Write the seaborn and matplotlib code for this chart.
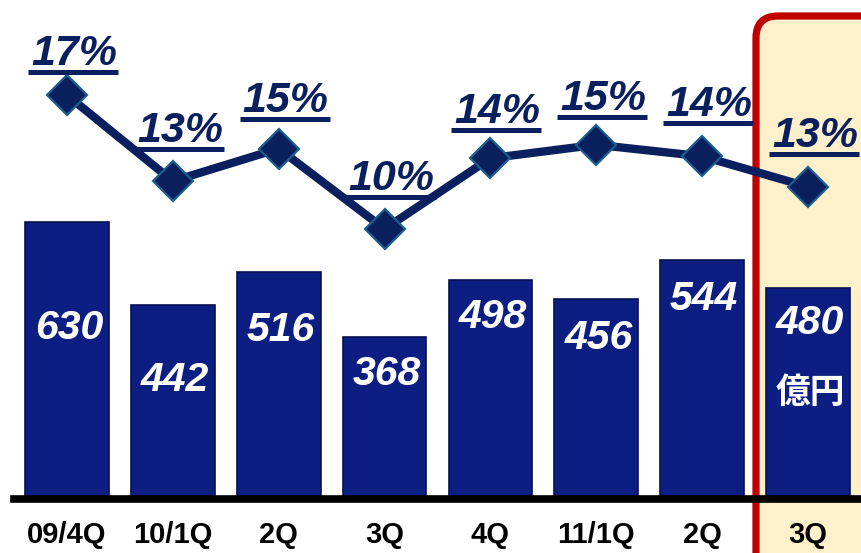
import matplotlib
matplotlib.use("Agg")
import matplotlib.pyplot as plt
from matplotlib.patches import FancyBboxPatch
from matplotlib.lines import Line2D
import seaborn as sns
import pandas as pd

# ---- data ----
quarters = ["09/4Q", "10/1Q", "2Q", "3Q", "4Q", "11/1Q", "2Q", "3Q"]
amounts = [630, 442, 516, 368, 498, 456, 544, 480]          # 億円
ratio_values = [17.0, 12.5, 14.2, 10.0, 13.7, 14.4, 13.8, 12.2]  # plotted position (%)
ratio_labels = ["17%", "13%", "15%", "10%", "14%", "15%", "14%", "13%"]
unit_label = "億円"

# ---- style / layout ----
NAVY = "#0A1F5E"
BAR = "#0C1E82"
# vertical position of the white value inside each bar (px below bar top)
bar_label_drop = [106, 75, 58, 37, 37, 39, 39, 35]
# gap between each marker and the underline of its % label (px)
ratio_label_lift = [24, 33, 31, 33, 29, 29, 34, 34]

sns.set_theme(style="white")
plt.rcParams["font.family"] = ["Liberation Sans", "DejaVu Sans"]

W, H = 861, 553
fig = plt.figure(figsize=(W / 100, H / 100), dpi=100)
fig.patch.set_facecolor("white")

base_px = 499          # baseline position from top
left_px = 14
ax = fig.add_axes([left_px / W, (H - base_px) / H, 1 - left_px / W, base_px / H])
scale = (base_px - 222) / 630.0   # px per unit
ax.set_ylim(0, base_px / scale)
step = 106.4
x_right = (W - 67) / step
ax.set_xlim(-0.5, x_right)
ax.patch.set_visible(False)

df = pd.DataFrame({"idx": list(range(len(quarters))), "amount": amounts,
                   "ratio": ratio_values})

# highlight box (figure pixel coords)
box = FancyBboxPatch((756, -60), 200, H - 16 + 60,
                     boxstyle="round,pad=0,rounding_size=22",
                     transform=None, facecolor="#FFF0CC", edgecolor="#C00000",
                     linewidth=5.2, zorder=0, clip_on=False)
ax.add_artist(box)

sns.barplot(data=df, x="idx", y="amount", ax=ax, color=BAR, width=0.79,
            saturation=1, edgecolor="#061250", linewidth=1.2, zorder=2)

for i, (v, d) in enumerate(zip(amounts, bar_label_drop)):
    ax.annotate(str(v), xy=(i, v), xytext=(2, -d), textcoords="offset pixels",
                ha="center", va="center", color="white", fontsize=29.5,
                fontweight="bold", fontstyle="italic", zorder=5)
ax.annotate(unit_label, xy=(7, amounts[7]), xytext=(2, -105),
            textcoords="offset pixels", ha="center", va="center",
            color="white", fontsize=25, fontweight="bold",
            family=["Noto Sans CJK JP", "DejaVu Sans"], zorder=5)

for s in ["top", "right", "left"]:
    ax.spines[s].set_visible(False)
ax.spines["bottom"].set_color("black")
ax.spines["bottom"].set_linewidth(5.5)
ax.spines["bottom"].set_zorder(6)
ax.set_yticks([])
ax.set_xticks(range(len(quarters)))
ax.set_xticklabels(quarters, fontsize=21, fontweight="bold", color="black")
ax.tick_params(axis="x", length=0, pad=16)
ax.set_xlabel("")
ax.set_ylabel("")

# ratio line
ax2 = ax.twinx()
ax2.patch.set_visible(False)
p_per = 19.14
ax2.set_ylim(10 - (base_px - 229) / p_per, 10 + 229 / p_per)
ax2.set_xlim(ax.get_xlim())
sns.lineplot(data=df, x="idx", y="ratio", ax=ax2, color=NAVY, linewidth=6,
             marker="D", markersize=20, markerfacecolor=NAVY,
             markeredgecolor="#1C5E8E", markeredgewidth=1.6, zorder=7)
ax2.set_xlim(ax.get_xlim())
for s in ax2.spines.values():
    s.set_visible(False)
ax2.set_yticks([])
ax2.set_ylabel("")
ax2.set_xlabel("")

texts = []
for i, (v, lab, lift) in enumerate(zip(ratio_values, ratio_labels, ratio_label_lift)):
    t = ax2.annotate(lab, xy=(i, v), xytext=(7, lift + 6), textcoords="offset pixels",
                     ha="center", va="baseline", color=NAVY, fontsize=31,
                     fontweight="bold", fontstyle="italic", zorder=8)
    texts.append(t)

fig.canvas.draw()
r = fig.canvas.get_renderer()
for t in texts:
    bb = t.get_window_extent(r)
    y = bb.y0 + 2
    fig.add_artist(Line2D([bb.x0 - 3, bb.x1 + 1], [y, y], transform=None,
                          color=NAVY, linewidth=3.6, solid_capstyle="butt"))

fig.savefig("out.png", dpi=100)
